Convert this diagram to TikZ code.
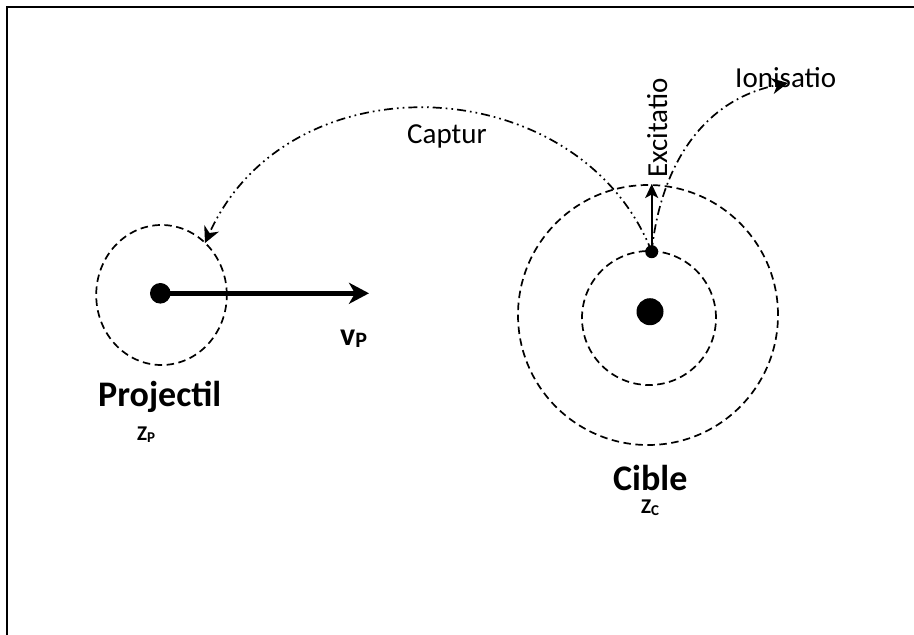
\documentclass[tikz,border=0pt]{standalone}
\usepackage{fontspec}
\setmainfont{Carlito}
\usetikzlibrary{arrows.meta,shapes.geometric}
\tikzset{
  dot/.style={circle,fill=black,inner sep=0pt},
  orbit/.style={draw,line width=1.7pt,dash pattern=on 7.5pt off 4.5pt,inner sep=0pt},
  lbl/.style={anchor=base west,inner sep=0pt,font=\fontsize{29}{34}\selectfont},
  blbl/.style={anchor=base west,inner sep=0pt,font=\fontsize{36}{40}\selectfont\bfseries},
  sublbl/.style={anchor=base west,inner sep=0pt},
  curvetip/.style={-{Stealth[length=16pt,width=16pt,inset=5pt]}},
  capline/.style={line width=1.7pt,dash pattern=on 9pt off 4pt on 1.7pt off 4pt on 1.7pt off 4pt},
  ionline/.style={line width=1.7pt,dash pattern=on 9pt off 4pt on 1.7pt off 4pt},
}
\begin{document}
\begin{tikzpicture}[x=1pt,y=-1pt]
\useasboundingbox (0,0) rectangle (914,635);
\begin{scope}
\clip (0,0) rectangle (914,635);
\draw[line width=2pt] (7,7) rectangle (950,680);
\end{scope}
% projectile
\node[orbit,ellipse,minimum width=130.6pt,minimum height=140pt] (porbit) at (161.5,295) {};
\node[dot,minimum size=20.6pt] (pdot) at (160.3,293.3) {};
\coordinate (vtip) at (369,293.3);
\draw[line width=5.5pt,-{Stealth[length=20pt,width=21pt,inset=6pt]}] (pdot.center) -- (vtip);
\node[sublbl] (vp) at (340,345) {{\fontsize{32}{32}\selectfont\bfseries v}{\fontsize{22}{22}\selectfont\bfseries\raisebox{-2pt}{P}}};
\node[blbl] (proj) at (98,406) {Projectil};
\node[sublbl] (zp) at (137,440) {{\fontsize{21}{21}\selectfont\bfseries Z}{\fontsize{15}{15}\selectfont\bfseries\raisebox{-2pt}{P}}};
% target
\node[orbit,circle,minimum size=260pt] (outer) at (648,315) {};
\node[orbit,circle,minimum size=134pt] (inner) at (649,318) {};
\node[dot,minimum size=27pt] (cdot) at (650,311.7) {};
\node[dot,minimum size=13pt] (sdot) at (651.7,251.7) {};
\node[blbl] (cible) at (613,490) {Cible};
\node[sublbl] (zc) at (641,513) {{\fontsize{21}{21}\selectfont\bfseries Z}{\fontsize{15}{15}\selectfont\bfseries\raisebox{-2pt}{C}}};
% excitation
\coordinate (exctip) at (651.7,184);
\draw[line width=1.8pt,-{Stealth[length=14pt,width=13pt,inset=3.5pt]}] (sdot.center) -- (exctip);
\node[lbl,rotate=90] (exc) at (667,178) {Excitatio};
% capture
\coordinate (captip) at (205,243);
\draw[capline,curvetip] (sdot.center) .. controls (580,70) and (290,55) .. (captip);
\node[lbl] (cap) at (407,143) {Captur};
% ionisation
\coordinate (iontip) at (788,83);
\draw[ionline,curvetip] (sdot.center) .. controls (660,170) and (700,100) .. (iontip);
\node[lbl] (ion) at (735,87) {Ionisatio};
\end{tikzpicture}
\end{document}
